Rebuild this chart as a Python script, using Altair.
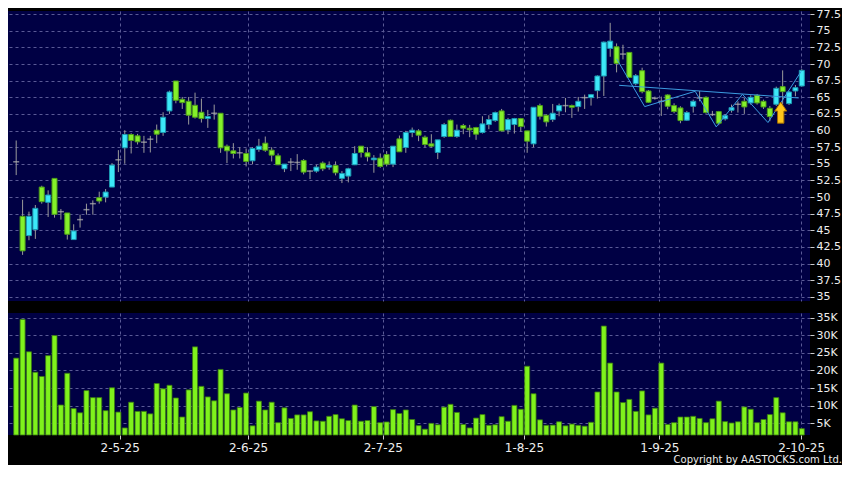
import altair as alt
import pandas as pd

# ---------------- data ----------------
opens = [55.3, 47.1, 44.2, 45.1, 51.5, 49.2, 52.8, 47.8, 47.6, 43.6,
         46.6, 48.1, 49.0, 49.9, 50.0, 51.5, 55.6, 57.4, 59.4, 59.2,
         58.25, 58.7, 60.05, 59.7, 62.95, 67.45, 64.7, 64.4, 63.8, 62.75,
         61.8, 62.6, 62.6, 57.65, 56.95, 56.65, 56.55, 55.45, 57.15, 58.1,
         57.05, 56.2, 54.25, 55.25, 55.2, 55.5, 53.9, 53.9, 55.1, 54.5,
         54.75, 52.8, 53.15, 54.85, 57.65, 56.65, 55.6, 55.85, 56.4, 54.95,
         58.75, 57.45, 59.7, 59.95, 59.0, 58.0, 56.7, 59.1, 61.55, 59.1,
         60.75, 60.35, 60.45, 59.7, 60.9, 61.5, 62.95, 60.1, 60.9, 61.8,
         59.95, 58.0, 63.75, 62.3, 61.65, 62.95, 63.75, 63.75, 63.6, 64.95,
         64.95, 66.0, 68.2, 72.35, 72.6, 71.5, 71.75, 67.05, 69.0, 65.95,
         64.85, 64.4, 65.35, 63.75, 63.4, 61.55, 63.65, 64.9, 65.0, 62.4,
         62.85, 61.75, 63.05, 63.95, 64.4, 64.15, 65.3, 64.4, 63.35, 63.95,
         66.6, 64.05, 65.95, 66.7]
highs = [58.5, 49.6, 47.8, 48.8, 51.7, 51.0, 52.8, 48.2, 47.6, 45.9,
         47.35, 49.0, 49.5, 50.8, 51.2, 55.1, 57.05, 60.05, 59.6, 59.5,
         59.2, 59.2, 60.9, 62.75, 66.0, 67.45, 65.05, 65.05, 65.7, 64.8,
         63.1, 63.9, 62.6, 57.9, 58.1, 57.5, 57.3, 57.5, 58.75, 59.1,
         57.5, 56.55, 54.95, 55.85, 56.45, 55.7, 54.0, 54.85, 55.35, 55.35,
         55.35, 53.9, 54.4, 57.65, 57.65, 57.5, 56.3, 56.55, 56.9, 57.65,
         59.25, 59.95, 60.45, 60.2, 59.25, 59.45, 58.6, 61.15, 61.65, 60.9,
         61.0, 60.85, 60.55, 62.15, 62.3, 62.85, 63.25, 61.9, 61.9, 61.9,
         59.95, 63.5, 64.05, 62.45, 64.0, 64.05, 64.9, 63.9, 65.05, 65.4,
         65.5, 68.3, 73.4, 76.2, 73.1, 72.9, 71.75, 68.5, 69.45, 66.1,
         65.1, 65.1, 65.45, 64.1, 63.65, 62.95, 64.65, 65.95, 65.15, 62.95,
         62.95, 62.45, 63.9, 64.4, 64.9, 65.3, 65.5, 64.65, 63.7, 66.6,
         69.05, 65.95, 66.85, 69.25]
lows = [53.3, 41.3, 43.5, 43.7, 49.0, 47.0, 46.9, 46.6, 43.6, 43.6,
        45.4, 47.35, 47.35, 49.0, 49.2, 51.5, 53.75, 55.0, 56.55, 57.9,
        56.65, 56.7, 58.1, 59.2, 62.5, 64.1, 63.25, 60.9, 61.8, 61.2,
        60.4, 61.65, 56.65, 55.1, 55.8, 55.8, 54.6, 54.95, 56.8, 56.8,
        55.35, 54.8, 53.75, 53.9, 54.1, 53.4, 52.7, 53.65, 53.9, 54.1,
        53.25, 52.1, 52.2, 54.8, 55.95, 55.35, 53.65, 54.4, 54.6, 54.5,
        56.8, 56.65, 59.0, 58.4, 57.5, 57.45, 55.7, 58.9, 59.1, 58.9,
        59.45, 59.0, 58.6, 59.55, 60.2, 61.3, 59.85, 59.45, 59.55, 59.85,
        56.65, 57.5, 61.65, 60.6, 61.3, 62.15, 62.75, 61.9, 62.85, 63.25,
        63.75, 64.8, 65.2, 71.1, 68.75, 70.7, 68.0, 66.8, 65.6, 64.15,
        64.65, 62.2, 63.2, 62.6, 61.1, 61.45, 62.7, 64.4, 62.55, 62.2,
        60.8, 61.5, 62.7, 62.7, 62.5, 63.9, 63.9, 63.25, 61.4, 63.7,
        63.95, 63.85, 65.15, 66.6]
closes = [55.3, 41.9, 47.1, 48.3, 49.3, 50.3, 47.4, 47.8, 44.4, 44.9,
          46.6, 48.1, 49.0, 49.4, 50.75, 54.8, 55.6, 59.4, 58.5, 58.3,
          58.25, 58.7, 59.45, 62.0, 65.8, 64.55, 64.2, 62.3, 62.0, 61.8,
          62.1, 62.6, 57.4, 56.95, 56.55, 56.65, 55.35, 57.3, 57.65, 57.05,
          56.3, 54.85, 54.95, 55.25, 55.2, 53.75, 53.9, 54.5, 54.25, 54.75,
          53.65, 53.55, 54.25, 56.55, 56.7, 56.05, 55.85, 54.6, 54.95, 57.65,
          56.8, 59.7, 60.05, 59.3, 57.9, 57.65, 58.6, 60.9, 59.1, 60.05,
          60.35, 60.1, 59.45, 61.0, 61.65, 62.7, 59.95, 61.65, 61.8, 60.6,
          58.4, 63.5, 62.15, 61.3, 62.6, 63.75, 63.75, 63.5, 64.4, 64.95,
          65.4, 68.2, 73.3, 73.45, 70.1, 71.5, 68.0, 68.25, 65.85, 64.25,
          64.85, 64.4, 63.65, 62.85, 61.5, 62.7, 64.4, 64.9, 62.7, 62.4,
          61.1, 62.25, 63.45, 63.95, 63.55, 65.0, 64.15, 63.55, 62.1, 66.35,
          65.85, 65.8, 66.45, 69.05]
volumes_k = [23.5, 34.5, 25.3, 19.5, 18.3, 24.2, 29.9, 10.2, 19.2, 9.2,
             8.0, 14.3, 12.3, 12.3, 8.6, 15.1, 8.2, 3.7, 11.0, 8.4,
             8.4, 7.7, 16.3, 14.8, 15.8, 12.2, 6.8, 14.5, 26.7, 15.5,
             12.5, 11.4, 20.3, 13.4, 8.8, 9.5, 13.6, 4.3, 11.3, 8.8,
             11.0, 5.2, 9.4, 6.4, 7.4, 7.4, 8.3, 5.7, 5.6, 7.0,
             7.5, 6.3, 5.8, 10.2, 5.6, 5.8, 9.75, 5.2, 5.4, 8.9,
             7.8, 8.8, 6.1, 4.35, 3.35, 5.0, 4.6, 9.6, 10.4, 8.1,
             4.7, 3.7, 6.5, 7.5, 4.45, 4.6, 6.9, 5.6, 10.1, 9.0,
             21.2, 13.4, 6.0, 4.45, 4.5, 5.45, 4.3, 4.8, 4.45, 4.2,
             5.3, 13.9, 32.6, 22.1, 13.9, 10.9, 11.8, 8.4, 14.2, 7.4,
             9.3, 22.1, 4.7, 5.2, 6.8, 6.8, 7.0, 6.4, 5.2, 6.3,
             11.3, 5.5, 5.1, 5.45, 9.65, 9.0, 5.2, 6.1, 7.5, 12.3,
             8.0, 5.45, 5.45, 3.5]

tick_idx = [16.2, 36.3, 57.4, 79.5, 100.7, 122.9]
tick_labels = ["2-5-25", "2-6-25", "2-7-25", "1-8-25", "1-9-25", "2-10-25"]
price_ticks = [35, 37.5, 40, 42.5, 45, 47.5, 50, 52.5, 55, 57.5,
               60, 62.5, 65, 67.5, 70, 72.5, 75, 77.5]
vol_ticks = [5, 10, 15, 20, 25, 30, 35]

zig_idx = [94.0, 98.4, 106.3, 109.6, 113.7, 117.7, 122.9]
zig_price = [70.8, 63.6, 65.9, 60.55, 65.45, 61.2, 68.9]
neck_idx = [94.4, 122.5]
neck_price = [66.8, 64.9]
arrow_idx = [119.7]
arrow_price = [62.7]
copyright = ["Copyright by AASTOCKS.com Ltd."]

# ---------------- tables ----------------
n = len(opens)
direction = ["up" if c > o else ("down" if c < o else "flat") for o, c in zip(opens, closes)]
df = pd.DataFrame({"i": list(range(n)), "open": opens, "high": highs, "low": lows,
                   "close": closes, "vol": volumes_k, "dir": direction})
lines_df = pd.DataFrame({
    "i": zig_idx + neck_idx,
    "p": zig_price + neck_price,
    "g": ["zig"] * len(zig_idx) + ["neck"] * len(neck_idx),
})
arrow_df = pd.DataFrame({"i": arrow_idx, "p": arrow_price})
copy_df = pd.DataFrame({"t": copyright})

# ---------------- styling ----------------
W, HP, HV = 802, 290, 122
GRID = "#5A5A96"
LABEL = "#EEEEEE"
TICK = "#CCCCCC"

xs = alt.Scale(domain=[-0.5, n - 0.5], nice=False, zero=False)
ys = alt.Scale(domain=[34.36, 77.98], nice=False, zero=False)
vs = alt.Scale(domain=[1.7, 36.3], nice=False, zero=False)

label_expr = "''"
for v, l in reversed(list(zip(tick_idx, tick_labels))):
    label_expr = f"abs(datum.value - {v}) < 0.01 ? '{l}' : ({label_expr})"

x_axis_price = alt.Axis(values=tick_idx, grid=True, labels=False, ticks=False, domain=False,
                        gridColor=GRID, gridDash=[3, 3], title=None)
y_axis_price = alt.Axis(orient="right", values=price_ticks, format=".1~f", grid=True,
                        gridColor=GRID, gridDash=[3, 3], domain=False, tickSize=4,
                        tickColor=TICK, labelPadding=2, labelFontSize=11, labelColor=LABEL,
                        labelOverlap=False, title=None)
x_axis_vol = alt.Axis(values=tick_idx, labelExpr=label_expr, grid=True, gridColor=GRID,
                      gridDash=[3, 3], domain=False, tickSize=4, tickColor=TICK,
                      labelPadding=3, labelFontSize=12, labelColor=LABEL, labelFlush=False,
                      labelOverlap=False, title=None)
y_axis_vol = alt.Axis(orient="right", values=vol_ticks, labelExpr="datum.value + 'K'",
                      grid=True, gridColor=GRID, gridDash=[3, 3], domain=False, tickSize=4,
                      tickColor=TICK, labelPadding=2, labelFontSize=11, labelColor=LABEL,
                      labelOverlap=False, title=None)

ARROW = "M0,-1L0.57,-0.14L0.3,-0.14L0.3,1L-0.3,1L-0.3,-0.14L-0.57,-0.14Z"


def px(field="i"):
    return alt.X(f"{field}:Q", scale=xs, axis=x_axis_price, title=None)


def py(field):
    return alt.Y(f"{field}:Q", scale=ys, axis=y_axis_price, title=None)


# ---------------- price panel ----------------
base = alt.Chart(df)
wick = base.mark_rule(color="#9A9A9A", strokeWidth=1).encode(
    x=px(), y=py("low"), y2="high:Q",
)
body = base.transform_filter("datum.dir != 'flat'").mark_bar(size=5, strokeWidth=1).encode(
    x=px(), y=py("open"), y2="close:Q",
    fill=alt.Fill("dir:N", scale=alt.Scale(domain=["up", "down"], range=["#3CE8F8", "#84F02A"]),
                  legend=None),
    stroke=alt.Stroke("dir:N", scale=alt.Scale(domain=["up", "down"], range=["#1C98B0", "#4E9E1A"]),
                      legend=None),
)
doji = base.transform_filter("datum.dir == 'flat'").mark_tick(
    orient="horizontal", size=6, thickness=1.5, color="#B4B4B4").encode(
    x=px(), y=py("open"),
)
pattern = alt.Chart(lines_df).mark_line(color="#3C9CE0", strokeWidth=1).encode(
    x=px(), y=py("p"), detail="g:N",
)
arrow = alt.Chart(arrow_df).mark_point(shape=ARROW, size=450, filled=True, fill="#FFC61A",
                                       stroke="#A06A00", strokeWidth=1, opacity=1).encode(
    x=px(), y=py("p"),
)
price = alt.layer(wick, body, doji, pattern, arrow).properties(width=W, height=HP)

# ---------------- volume panel ----------------
vbars = alt.Chart(df).mark_bar(size=5, fill="#7FF21C", stroke="#3A7A12", strokeWidth=0.8).encode(
    x=alt.X("i:Q", scale=xs, axis=x_axis_vol, title=None),
    y=alt.Y("vol:Q", scale=vs, axis=y_axis_vol, title=None),
    y2=alt.datum(1.7),
)
ctext = alt.Chart(copy_df).mark_text(align="right", baseline="bottom", font="DejaVu Sans",
                                     fontSize=10, color=LABEL).encode(
    text="t:N", x=alt.value(W + 32), y=alt.value(HV + 30))
volume = alt.layer(vbars, ctext).properties(width=W, height=HV)

chart = (
    alt.vconcat(price, volume, spacing=9)
    .properties(padding=0, background="#000000")
    .configure_view(fill="#000044", strokeWidth=0)
    .configure_axis(labelFont="DejaVu Sans")
)

chart.save("out.html", embed_options={"renderer": "svg", "actions": False})
